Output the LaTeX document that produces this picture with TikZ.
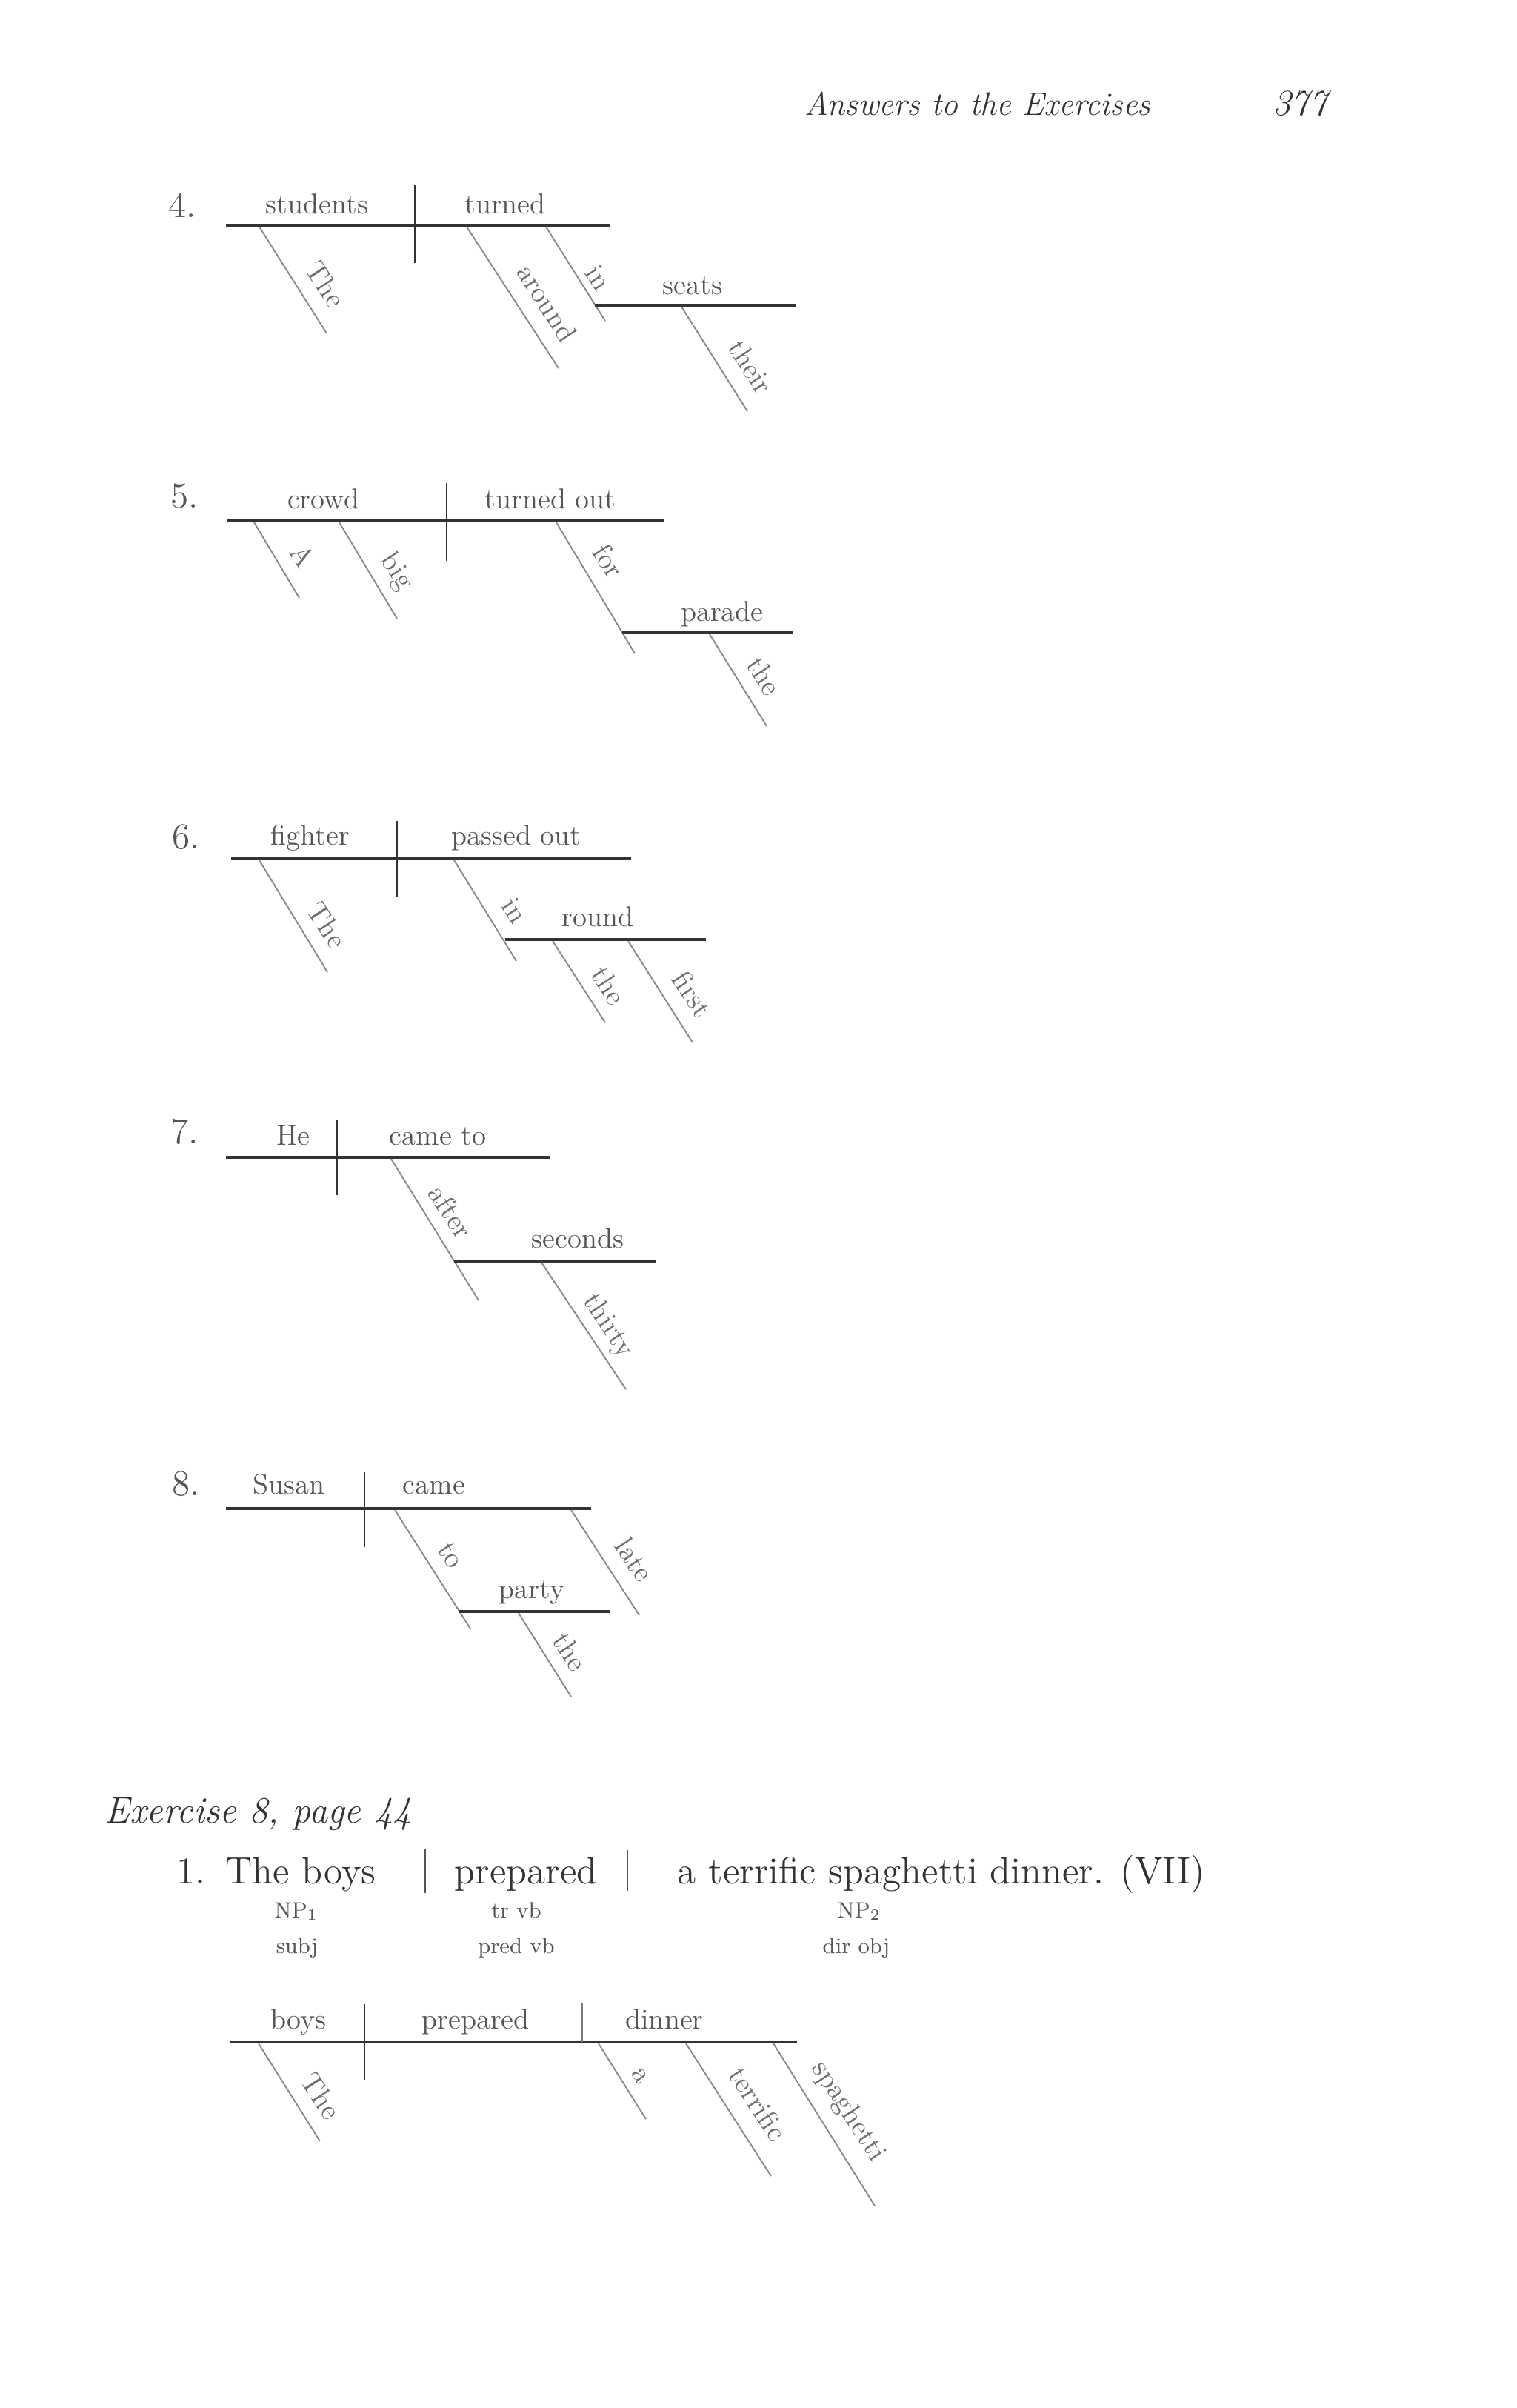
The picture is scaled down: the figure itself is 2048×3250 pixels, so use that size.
\documentclass[tikz,border=0pt]{standalone}
\usepackage{tikz}
\definecolor{ink}{HTML}{333333}
\definecolor{softink}{HTML}{555555}
\definecolor{slantc}{HTML}{8A8A8A}
\begin{document}
\begin{tikzpicture}[x=0.01cm,y=-0.01cm,
  hline/.style={draw=ink, line width=0.9pt},
  slantline/.style={draw=slantc, line width=0.55pt},
  divider/.style={draw=ink, line width=0.6pt},
  word/.style={font=\fontsize{11}{13}\selectfont, text=softink, inner sep=0pt, anchor=base},
  sword/.style={font=\fontsize{11}{13}\selectfont, text=softink!85, inner sep=0pt, rotate=-57, xshift=1.2pt, yshift=0.8pt},
  numlbl/.style={font=\fontsize{14}{16}\selectfont, text=softink, inner sep=0pt},
  sent/.style={font=\fontsize{14.6}{17}\selectfont, text=ink, inner sep=0pt, anchor=base},
  tag/.style={font=\fontsize{8.5}{10}\selectfont, text=softink, inner sep=0pt, anchor=base},
  head/.style={font=\fontsize{12.5}{15}\selectfont\itshape, text=ink, inner sep=0pt, anchor=base}]
\useasboundingbox[fill=white] (0,0) rectangle (2048,3250);

% header
\node[head] (hdr) at (1320,155) {Answers to the Exercises};
\node[head, font=\fontsize{14}{16}\selectfont\itshape] (pgno) at (1755,155) {377};

% ---------- 4 ----------
\node[numlbl] (n4) at (246,277) {4.};
\coordinate (d4L) at (305,304); \coordinate (d4R) at (823,304);
\coordinate (d4vT) at (560,250); \coordinate (d4vB) at (560,355);
\draw[hline] (d4L) -- (d4R);
\draw[divider] (d4vT) -- (d4vB);
\node[word] (w4a) at (428,288) {students};
\node[word] (w4b) at (682,288) {turned};
\coordinate (d4s1a) at (350,306); \coordinate (d4s1b) at (441,450);
\draw[slantline] (d4s1a) -- (d4s1b);
\node[sword] (w4c) at (435,382) {The};
\coordinate (d4s2a) at (630,306); \coordinate (d4s2b) at (754,497);
\draw[slantline] (d4s2a) -- (d4s2b);
\node[sword] (w4d) at (734,407) {around};
\coordinate (d4s3a) at (737,306); \coordinate (d4s3b) at (817,433);
\draw[slantline] (d4s3a) -- (d4s3b);
\node[sword] (w4e) at (803,373) {in};
\coordinate (d4oL) at (803,412); \coordinate (d4oR) at (1075,412);
\draw[hline] (d4oL) -- (d4oR);
\node[word] (w4f) at (935,397) {seats};
\coordinate (d4s4a) at (920,414); \coordinate (d4s4b) at (1009,555);
\draw[slantline] (d4s4a) -- (d4s4b);
\node[sword] (w4g) at (1009,493) {their};

% ---------- 5 ----------
\node[numlbl] (n5) at (249,670) {5.};
\coordinate (d5L) at (306,703); \coordinate (d5R) at (897,703);
\coordinate (d5vT) at (603,652); \coordinate (d5vB) at (603,757);
\draw[hline] (d5L) -- (d5R);
\draw[divider] (d5vT) -- (d5vB);
\node[word] (w5a) at (437,686) {crowd};
\node[word] (w5b) at (743,686) {turned out};
\coordinate (d5s1a) at (343,705); \coordinate (d5s1b) at (404,807);
\draw[slantline] (d5s1a) -- (d5s1b);
\node[sword] (w5c) at (404,748) {A};
\coordinate (d5s2a) at (458,705); \coordinate (d5s2b) at (536,835);
\draw[slantline] (d5s2a) -- (d5s2b);
\node[sword] (w5d) at (530,770) {big};
\coordinate (d5s3a) at (751,705); \coordinate (d5s3b) at (857,882);
\draw[slantline] (d5s3a) -- (d5s3b);
\node[sword] (w5e) at (817,755) {for};
\coordinate (d5oL) at (840,854); \coordinate (d5oR) at (1070,854);
\draw[hline] (d5oL) -- (d5oR);
\node[word] (w5f) at (975,838) {parade};
\coordinate (d5s4a) at (958,856); \coordinate (d5s4b) at (1035,980);
\draw[slantline] (d5s4a) -- (d5s4b);
\node[sword] (w5g) at (1027,910) {the};

% ---------- 6 ----------
\node[numlbl] (n6) at (251,1130) {6.};
\coordinate (d6L) at (312,1159); \coordinate (d6R) at (852,1159);
\coordinate (d6vT) at (536,1108); \coordinate (d6vB) at (536,1210);
\draw[hline] (d6L) -- (d6R);
\draw[divider] (d6vT) -- (d6vB);
\node[word] (w6a) at (419,1140) {fighter};
\node[word] (w6b) at (697,1140) {passed out};
\coordinate (d6s1a) at (350,1161); \coordinate (d6s1b) at (442,1312);
\draw[slantline] (d6s1a) -- (d6s1b);
\node[sword] (w6c) at (437,1247) {The};
\coordinate (d6s2a) at (613,1161); \coordinate (d6s2b) at (697,1297);
\draw[slantline] (d6s2a) -- (d6s2b);
\node[sword] (w6d) at (690,1227) {in};
\coordinate (d6oL) at (682,1268); \coordinate (d6oR) at (953,1268);
\draw[hline] (d6oL) -- (d6oR);
\node[word] (w6e) at (807,1250) {round};
\coordinate (d6s3a) at (746,1270); \coordinate (d6s3b) at (817,1380);
\draw[slantline] (d6s3a) -- (d6s3b);
\node[sword] (w6f) at (817,1328) {the};
\coordinate (d6s4a) at (848,1270); \coordinate (d6s4b) at (935,1407);
\draw[slantline] (d6s4a) -- (d6s4b);
\node[sword] (w6g) at (930,1340) {first};

% ---------- 7 ----------
\node[numlbl] (n7) at (249,1527) {7.};
\coordinate (d7L) at (305,1562); \coordinate (d7R) at (742,1562);
\coordinate (d7vT) at (455,1512); \coordinate (d7vB) at (455,1613);
\draw[hline] (d7L) -- (d7R);
\draw[divider] (d7vT) -- (d7vB);
\node[word] (w7a) at (396,1545) {He};
\node[word] (w7b) at (591,1545) {came to};
\coordinate (d7s1a) at (528,1564); \coordinate (d7s1b) at (646,1755);
\draw[slantline] (d7s1a) -- (d7s1b);
\node[sword] (w7c) at (604,1633) {after};
\coordinate (d7oL) at (613,1702); \coordinate (d7oR) at (885,1702);
\draw[hline] (d7oL) -- (d7oR);
\node[word] (w7d) at (780,1684) {seconds};
\coordinate (d7s2a) at (731,1704); \coordinate (d7s2b) at (845,1875);
\draw[slantline] (d7s2a) -- (d7s2b);
\node[sword] (w7e) at (816,1788) {thirty};

% ---------- 8 ----------
\node[numlbl] (n8) at (251,2003) {8.};
\coordinate (d8L) at (305,2036); \coordinate (d8R) at (798,2036);
\coordinate (d8vT) at (492,1987); \coordinate (d8vB) at (492,2088);
\draw[hline] (d8L) -- (d8R);
\draw[divider] (d8vT) -- (d8vB);
\node[word] (w8a) at (390,2016) {Susan};
\node[word] (w8b) at (586,2016) {came};
\coordinate (d8s1a) at (533,2038); \coordinate (d8s1b) at (635,2198);
\draw[slantline] (d8s1a) -- (d8s1b);
\node[sword] (w8c) at (604,2097) {to};
\coordinate (d8oL) at (620,2175); \coordinate (d8oR) at (823,2175);
\draw[hline] (d8oL) -- (d8oR);
\node[word] (w8d) at (718,2157) {party};
\coordinate (d8s2a) at (700,2177); \coordinate (d8s2b) at (771,2290);
\draw[slantline] (d8s2a) -- (d8s2b);
\node[sword] (w8e) at (765,2227) {the};
\coordinate (d8s3a) at (771,2038); \coordinate (d8s3b) at (863,2180);
\draw[slantline] (d8s3a) -- (d8s3b);
\node[sword] (w8f) at (852,2103) {late};

% ---------- Exercise 8 ----------
\node[head, anchor=base west, font=\fontsize{14.3}{17}\selectfont\itshape] (ex8) at (141,2460) {Exercise 8, page 44};
\node[sent] (e1) at (258,2542) {1.};
\node[sent] (e2) at (406,2542) {The boys};
\coordinate (eb1T) at (574,2495); \coordinate (eb1B) at (574,2555);
\draw[divider, draw=softink] (eb1T) -- (eb1B);
\node[sent] (e3) at (710,2542) {prepared};
\coordinate (eb2T) at (847,2497); \coordinate (eb2B) at (847,2552);
\draw[divider, draw=softink] (eb2T) -- (eb2B);
\node[sent] (e4) at (1271,2542) {a terrific spaghetti dinner. (VII)};
\node[tag] (t1) at (400,2588) {NP$_1$};
\node[tag] (t2) at (697,2588) {tr vb};
\node[tag] (t3) at (1160,2588) {NP$_2$};
\node[tag] (t4) at (401,2636) {subj};
\node[tag] (t5) at (697,2636) {pred vb};
\node[tag] (t6) at (1156,2636) {dir obj};

% final diagram
\coordinate (d9L) at (311,2756); \coordinate (d9R) at (1076,2756);
\coordinate (d9vT) at (492,2705); \coordinate (d9vB) at (492,2807);
\coordinate (d9wT) at (786,2703); \coordinate (d9wB) at (786,2756);
\draw[hline] (d9L) -- (d9R);
\draw[divider] (d9vT) -- (d9vB);
\draw[divider, draw=softink!80] (d9wT) -- (d9wB);
\node[word] (w9a) at (403,2738) {boys};
\node[word] (w9b) at (642,2738) {prepared};
\node[word] (w9c) at (897,2738) {dinner};
\coordinate (d9s1a) at (349,2758); \coordinate (d9s1b) at (432,2890);
\draw[slantline] (d9s1a) -- (d9s1b);
\node[sword] (w9d) at (429,2827) {The};
\coordinate (d9s2a) at (808,2758); \coordinate (d9s2b) at (872,2860);
\draw[slantline] (d9s2a) -- (d9s2b);
\node[sword] (w9e) at (859,2800) {a};
\coordinate (d9s3a) at (926,2758); \coordinate (d9s3b) at (1041,2937);
\draw[slantline] (d9s3a) -- (d9s3b);
\node[sword] (w9f) at (1019,2837) {terrific};
\coordinate (d9s4a) at (1044,2758); \coordinate (d9s4b) at (1181,2977);
\draw[slantline] (d9s4a) -- (d9s4b);
\node[sword] (w9g) at (1140,2848) {spaghetti};
\end{tikzpicture}
\end{document}
